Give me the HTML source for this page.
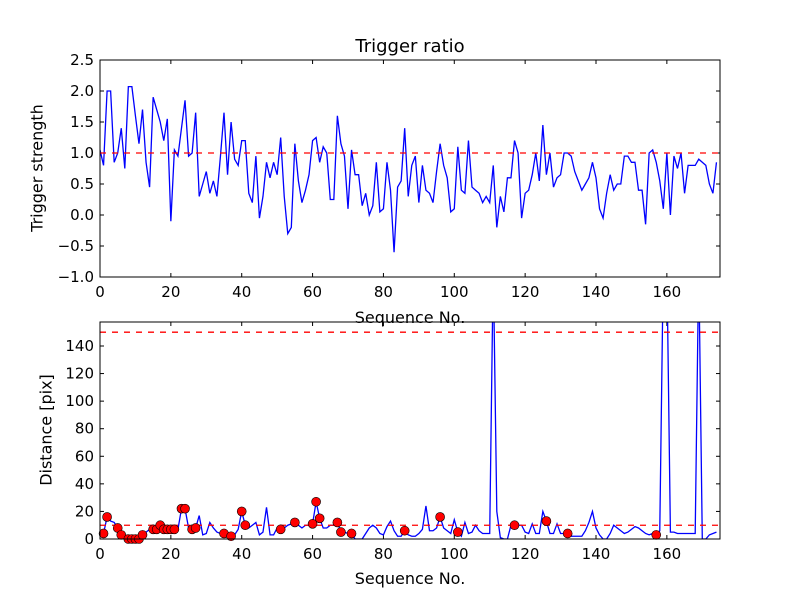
<!DOCTYPE html>
<html><head><meta charset="utf-8"><style>body{margin:0;background:#fff}svg{display:block;font-family:"DejaVu Sans","Liberation Sans",sans-serif}</style></head>
<body>
<svg id="c" width="800" height="600"></svg>
<script>
const ratio=[1.05,0.8,2.0,2.0,0.85,1.0,1.4,0.75,2.07,2.07,1.6,1.15,1.7,0.85,0.45,1.9,1.7,1.5,1.2,1.55,-0.1,1.05,0.95,1.4,1.85,0.95,1.0,1.65,0.3,0.5,0.7,0.35,0.55,0.3,0.95,1.65,0.65,1.5,0.9,0.8,1.2,1.2,0.35,0.2,0.95,-0.05,0.3,0.85,0.6,0.85,0.65,1.25,0.3,-0.3,-0.2,1.15,0.55,0.2,0.4,0.65,1.2,1.25,0.85,1.1,1.0,0.25,0.25,1.6,1.15,0.95,0.1,1.05,0.65,0.65,0.15,0.35,0.0,0.15,0.85,0.05,0.1,0.85,0.4,-0.6,0.45,0.55,1.4,0.3,0.8,0.95,0.2,0.8,0.4,0.35,0.2,0.7,1.15,0.8,0.6,0.05,0.1,1.1,0.4,0.35,1.2,0.45,0.4,0.35,0.2,0.3,0.2,0.8,-0.2,0.3,0.05,0.6,0.6,1.2,1.0,-0.05,0.35,0.4,0.65,1.0,0.55,1.45,0.65,1.0,0.45,0.6,0.65,1.0,1.0,0.95,0.7,0.55,0.4,0.5,0.6,0.85,0.6,0.1,-0.05,0.35,0.65,0.4,0.5,0.5,0.95,0.95,0.85,0.85,0.4,0.4,-0.15,1.0,1.05,0.85,0.55,0.1,1.0,0.0,0.95,0.75,1.0,0.35,0.8,0.8,0.8,0.9,0.85,0.8,0.5,0.35,0.85];
const dist=[4,4,16,13,12,8,3,0,0,0,0,0,3,5,7,7,7,10,7,7,7,7,7,22,22,8,7,8,17,3,4,12,8,5,4,4,5,2,3,7,20,10,8,10,12,3,5,23,3,3,8,7,8,10,11,12,10,8,10,10,11,27,15,8,8,10,10,12,5,5,4,4,0,0,0,4,8,10,8,4,3,9,13,6,2,2,6,3,2,2,4,7,24,6,6,8,16,8,6,4,14,5,2,12,4,5,10,6,4,4,4,200,20,1,0,0,10,10,10,10,5,4,11,4,4,20,13,4,4,11,4,4,4,2,2,2,2,6,12,20,8,3,0,0,4,10,8,6,4,5,7,9,8,6,4,3,4,3,6,200,200,5,5,4,4,4,4,4,4,200,0,0,3,4,5];
const markIdx=[1,2,5,6,8,9,10,11,12,15,16,17,18,19,20,21,23,24,26,27,35,37,40,41,51,55,60,61,62,67,68,71,86,96,101,117,126,132,157];
const xTicks=[0,20,40,60,80,100,120,140,160];
const yTicksTop=[-1.0,-0.5,0.0,0.5,1.0,1.5,2.0,2.5];
const yTicksBot=[0,20,40,60,80,100,120,140];
const thrTop=1.0, thrBot=[10,150];

const NS="http://www.w3.org/2000/svg", svg=document.getElementById('c');
function el(t,a,p){const e=document.createElementNS(NS,t);for(const k in a)e.setAttribute(k,a[k]);(p||svg).appendChild(e);return e;}
const X0=100,X1=720,XMAX=175;
const sx=v=>X0+v/XMAX*(X1-X0);
function axes(top,bot,ymin,ymax,yt,fmt,name){
  const sy=v=>bot-(v-ymin)/(ymax-ymin)*(bot-top);
  const g=el('g',{});
  
  
  const cid='clip-'+name;
  const cp=el('clipPath',{id:cid},g);el('rect',{x:X0,y:top,width:X1-X0,height:bot-top},cp);
  xTicks.forEach(t=>{const x=sx(t);
    el('line',{x1:x,x2:x,y1:bot,y2:bot-4,stroke:'#000'},g);el('line',{x1:x,x2:x,y1:top,y2:top+4,stroke:'#000'},g);
    const tx=el('text',{x:x,y:bot+20,'font-size':15,'text-anchor':'middle'},g);tx.textContent=t;
    });
  yt.forEach(t=>{const y=sy(t);
    el('line',{x1:X0,x2:X0+4,y1:y,y2:y,stroke:'#000'},g);el('line',{x1:X1,x2:X1-4,y1:y,y2:y,stroke:'#000'},g);
    const tx=el('text',{x:X0-6,y:y+5,'font-size':15,'text-anchor':'end'},g);tx.textContent=fmt(t);
    });
  return {g,sy,cid};
}
const A=axes(60,277,-1,2.5,yTicksTop,t=>t.toFixed(1).replace('-','\u2212'),'trigger-axes');
const pl=el('polyline',{points:ratio.map((v,i)=>sx(i)+','+A.sy(v)).join(' '),fill:'none',stroke:'#0000ff','stroke-width':1.3,'clip-path':'url(#'+A.cid+')'},A.g);

const th=el('line',{x1:X0,x2:X1,y1:A.sy(thrTop),y2:A.sy(thrTop),stroke:'#ff0000','stroke-width':1.3,'stroke-dasharray':'6,6'},A.g);

el('rect',{x:X0,y:60,width:X1-X0,height:217,fill:'none',stroke:'#000'},A.g);
const B=axes(322,539,0,157.4,yTicksBot,t=>t,'distance-axes');
const pl2=el('polyline',{points:dist.map((v,i)=>sx(i)+','+B.sy(v)).join(' '),fill:'none',stroke:'#0000ff','stroke-width':1.3,'clip-path':'url(#'+B.cid+')'},B.g);

thrBot.forEach(v=>{const l=el('line',{x1:X0,x2:X1,y1:B.sy(v),y2:B.sy(v),stroke:'#ff0000','stroke-width':1.3,'stroke-dasharray':'6,6'},B.g);
  });
markIdx.forEach(i=>{const c=el('circle',{cx:sx(i),cy:B.sy(dist[i]),r:4.5,fill:'#ff0000',stroke:'#000','stroke-width':0.6},B.g);
  });
el('rect',{x:X0,y:322,width:X1-X0,height:217,fill:'none',stroke:'#000'},B.g);
</script>
<div style="position:absolute;left:0;top:0;width:800px;height:600px;pointer-events:none;font-family:'DejaVu Sans','Liberation Sans',sans-serif">
<div style="position:absolute;top:36px;left:0;width:820px;text-align:center;font-size:18px">Trigger ratio</div>
<div style="position:absolute;top:308px;left:0;width:820px;text-align:center;font-size:16px">Sequence No.</div>
<div style="position:absolute;top:569px;left:0;width:820px;text-align:center;font-size:16px">Sequence No.</div>
<div style="position:absolute;left:37px;top:168px;transform:translate(-50%,-50%) rotate(-90deg);white-space:nowrap;font-size:16px">Trigger strength</div>
<div style="position:absolute;left:46px;top:430px;transform:translate(-50%,-50%) rotate(-90deg);white-space:nowrap;font-size:16px">Distance [pix]</div>
</div>
</body></html>
